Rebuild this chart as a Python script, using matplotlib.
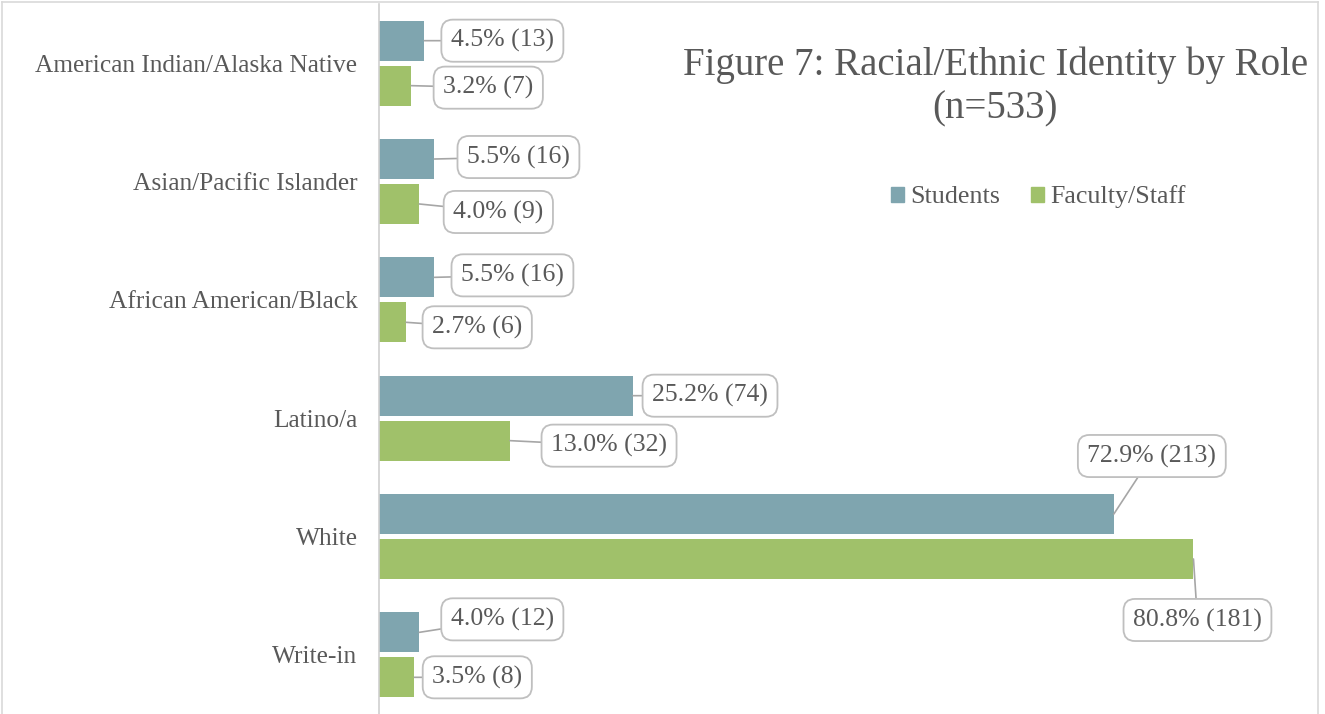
import matplotlib
matplotlib.use("Agg")
import matplotlib.pyplot as plt
from matplotlib.patches import Patch
from matplotlib.lines import Line2D
import numpy as np

categories = ["American Indian/Alaska Native", "Asian/Pacific Islander",
              "African American/Black", "Latino/a", "White", "Write-in"]
students_pct = [4.5, 5.5, 5.5, 25.2, 72.9, 4.0]
students_n = [13, 16, 16, 74, 213, 12]
faculty_pct = [3.2, 4.0, 2.7, 13.0, 80.8, 3.5]
faculty_n = [7, 9, 6, 32, 181, 8]
series_names = ["Students", "Faculty/Staff"]

# label box offsets (pixels) from bar end
stu_off = [(78, 0), (84, 2), (78, 2), (77, 0), (38, 58), (83, 13)]
fac_off = [(77, -2), (79, -8), (71, -5), (99, -5), (4, -61), (63, 0)]

C_STU = "#7FA5AF"
C_FAC = "#A0C16A"
TXT = "#595959"
FONT = "Liberation Serif"
plt.rcParams["font.family"] = [FONT, "DejaVu Serif"]

W, H = 1325, 714
fig = plt.figure(figsize=(W / 100, H / 100), dpi=100)
ax = fig.add_axes([379 / W, 0, (1300 - 379) / W, 1 - 4 / H])

y = np.arange(len(categories))
bh = 0.338
off = 0.19
ax.barh(y - off, students_pct, height=bh, color=C_STU, label=series_names[0])
ax.barh(y + off, faculty_pct, height=bh, color=C_FAC, label=series_names[1])

ax.set_xlim(0, (1300 - 379) / 10.08)
ax.set_ylim(len(categories) - 0.5, -0.5)
ax.set_yticks(y)
ax.set_yticklabels(categories, fontsize=18.3, color=TXT)
ax.tick_params(axis="y", length=0, pad=15.5)
ax.set_xticks([])
for s in ["top", "right", "bottom"]:
    ax.spines[s].set_visible(False)
ax.spines["left"].set_color("#D0D0D0")
ax.spines["left"].set_linewidth(1.2)

bbox = dict(boxstyle="round,pad=0.37,rounding_size=0.45", fc="white", ec="#BFBFBF", lw=1.3)
ap = dict(arrowstyle="-", color="#A6A6A6", lw=1.2, shrinkA=0, shrinkB=0)
for i in range(len(categories)):
    ax.annotate(f"{students_pct[i]:.1f}% ({students_n[i]})", xy=(students_pct[i], y[i] - off),
                xytext=stu_off[i], textcoords="offset pixels", ha="center", va="center",
                fontsize=18.5, color=TXT, bbox=bbox, arrowprops=ap)
    ax.annotate(f"{faculty_pct[i]:.1f}% ({faculty_n[i]})", xy=(faculty_pct[i], y[i] + off),
                xytext=fac_off[i], textcoords="offset pixels", ha="center", va="center",
                fontsize=18.5, color=TXT, bbox=bbox, arrowprops=ap)

fig.text(995.5 / W, 1 - 75 / H, "Figure 7: Racial/Ethnic Identity by Role",
         ha="center", va="baseline", fontsize=28, color=TXT)
fig.text(995.5 / W, 1 - 118 / H, "(n=533)",
         ha="center", va="baseline", fontsize=28, color=TXT)

handles = [Patch(color=C_STU), Patch(color=C_FAC)]
fig.legend(handles, series_names, loc="center", bbox_to_anchor=(1038.5 / W, 1 - 197 / H),
           ncol=2, frameon=False, fontsize=18.7, labelcolor=TXT,
           handlelength=0.5, handleheight=0.5, handletextpad=0.23, columnspacing=1.2,
           borderpad=0, borderaxespad=0)

# figure border
bc = "#D9D9D9"
fig.add_artist(Line2D([2 / W, 2 / W], [0, 1 - 2 / H], color=bc, lw=1.2, transform=fig.transFigure))
fig.add_artist(Line2D([1318 / W, 1318 / W], [0, 1 - 2 / H], color=bc, lw=1.2, transform=fig.transFigure))
fig.add_artist(Line2D([2 / W, 1318 / W], [1 - 2 / H, 1 - 2 / H], color=bc, lw=1.2, transform=fig.transFigure))

fig.savefig("out.png", dpi=100)
